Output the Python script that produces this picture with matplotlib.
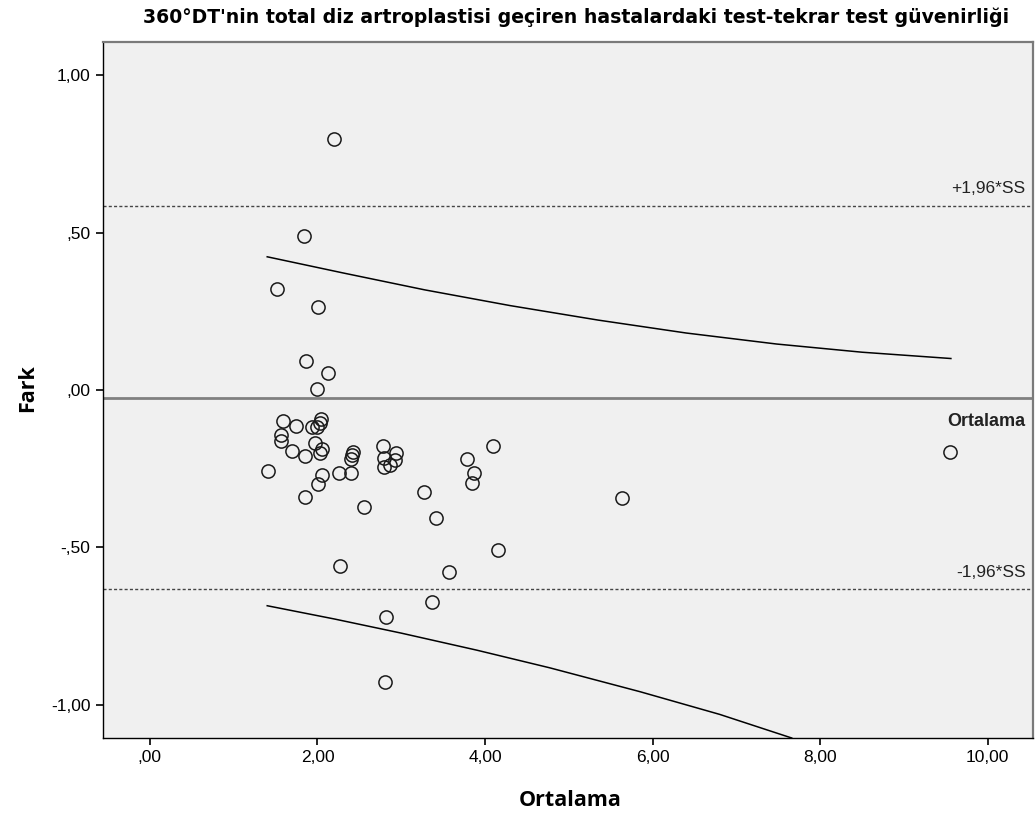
import matplotlib
matplotlib.use('Agg')
import matplotlib.pyplot as plt

# Ortalama (x) ve Fark (y) degerleri
ortalama = [2.20, 1.84, 1.52, 2.01, 1.86, 2.12, 2.00,
            1.59, 1.74, 1.93, 1.99, 2.04, 2.03, 1.57, 1.56, 1.70, 1.85,
            1.97, 2.05, 2.03, 1.41, 2.05, 2.01, 1.85,
            2.42, 2.41, 2.40, 2.26, 2.40,
            2.78, 2.79, 2.79, 2.86, 2.94, 2.93,
            3.27, 3.41, 3.79, 3.87, 3.84, 4.10,
            2.27, 2.55, 4.16, 3.57, 3.37, 2.82, 2.80,
            5.64, 9.55]
fark = [0.797, 0.489, 0.320, 0.265, 0.092, 0.055, 0.002,
        -0.097, -0.114, -0.118, -0.116, -0.093, -0.106, -0.143, -0.161, -0.193, -0.208,
        -0.167, -0.188, -0.201, -0.257, -0.270, -0.298, -0.341,
        -0.196, -0.206, -0.220, -0.262, -0.265,
        -0.178, -0.217, -0.245, -0.238, -0.201, -0.222,
        -0.323, -0.407, -0.219, -0.262, -0.294, -0.178,
        -0.558, -0.372, -0.508, -0.577, -0.672, -0.721, -0.926,
        -0.343, -0.197]

ort_fark = -0.024
ust_sinir = 0.585
alt_sinir = -0.633

# egri cizgiler (grafikten okunan noktalar)
ust_egri_x = [1.40, 2.30, 3.28, 4.30, 5.35, 6.40, 7.48, 8.50, 9.56]
ust_egri_y = [0.423, 0.372, 0.318, 0.268, 0.222, 0.181, 0.146, 0.120, 0.100]
alt_egri_x = [1.40, 2.20, 3.00, 3.90, 4.77, 5.85, 6.80, 7.66]
alt_egri_y = [-0.685, -0.727, -0.772, -0.826, -0.882, -0.958, -1.030, -1.105]

x_ticks = [0, 2, 4, 6, 8, 10]
y_ticks = [-1.0, -0.5, 0.0, 0.5, 1.0]

baslik = "360°DT'nin total diz artroplastisi geçiren hastalardaki test-tekrar test güvenirliği"


def virgul(v):
    s = '%.2f' % v
    s = s.replace('.', ',')
    if s.startswith('0,'):
        s = s[1:]
    elif s.startswith('-0,'):
        s = '-' + s[2:]
    return s


def ciz():
    plt.rcParams['font.family'] = ['Liberation Sans', 'DejaVu Sans']
    fig = plt.figure(figsize=(10.36, 8.23), dpi=100, facecolor='white')
    ax = fig.add_axes([103/1036, 1-738/823, (1033-103)/1036, (738-41.7)/823])
    ax.set_facecolor('#f0f0f0')

    ax.axhline(ort_fark, color='#808080', lw=2.0, zorder=2)
    ax.axhline(ust_sinir, color='#444444', lw=1.0, linestyle=(0, (2.2, 1.6)), zorder=2)
    ax.axhline(alt_sinir, color='#444444', lw=1.0, linestyle=(0, (2.2, 1.6)), zorder=2)

    ax.plot(ust_egri_x, ust_egri_y, color='black', lw=1.1, zorder=3)
    ax.plot(alt_egri_x, alt_egri_y, color='black', lw=1.1, zorder=3)

    ax.plot(ortalama, fark, linestyle='none', marker='o', markersize=9.5,
            markerfacecolor='none', markeredgecolor='#1a1a1a', markeredgewidth=1.1, zorder=4)

    ax.set_xlim(-0.56, 10.54)
    ax.set_ylim(-1.105, 1.106)
    ax.set_xticks(x_ticks)
    ax.set_xticklabels([virgul(v) for v in x_ticks])
    ax.set_yticks(y_ticks)
    ax.set_yticklabels([virgul(v) for v in y_ticks])
    ax.tick_params(direction='out', length=5, width=1.2, labelsize=12.5, colors='black', pad=4)

    for s in ['left', 'bottom']:
        ax.spines[s].set_color('black')
        ax.spines[s].set_linewidth(1.0)
    for s in ['top', 'right']:
        ax.spines[s].set_color('#7a7a7a')
        ax.spines[s].set_linewidth(1.6)

    ax.text(10.45, ust_sinir + 0.03, '+1,96*SS', ha='right', va='bottom', fontsize=12.5, color='#222222')
    ax.text(10.45, alt_sinir + 0.03, '-1,96*SS', ha='right', va='bottom', fontsize=12.5, color='#222222')
    ax.text(10.45, ort_fark - 0.05, 'Ortalama', ha='right', va='top', fontsize=13, fontweight='bold', color='#222222')

    fig.text(576/1036, 1-17/823, baslik, ha='center', va='center', fontsize=13.6, fontweight='bold',
             family=['Liberation Sans Narrow', 'DejaVu Sans Condensed'])
    fig.text(570/1036, 1-800/823, 'Ortalama', ha='center', va='center', fontsize=15.5, fontweight='bold',
             family=['Open Sans', 'DejaVu Sans'])
    fig.text(28/1036, 1-388/823, 'Fark', ha='center', va='center', rotation=90, fontsize=15.5,
             fontweight='bold', family=['Open Sans', 'DejaVu Sans'])

    fig.savefig('out.png', dpi=100)


if __name__ == '__main__':
    ciz()
